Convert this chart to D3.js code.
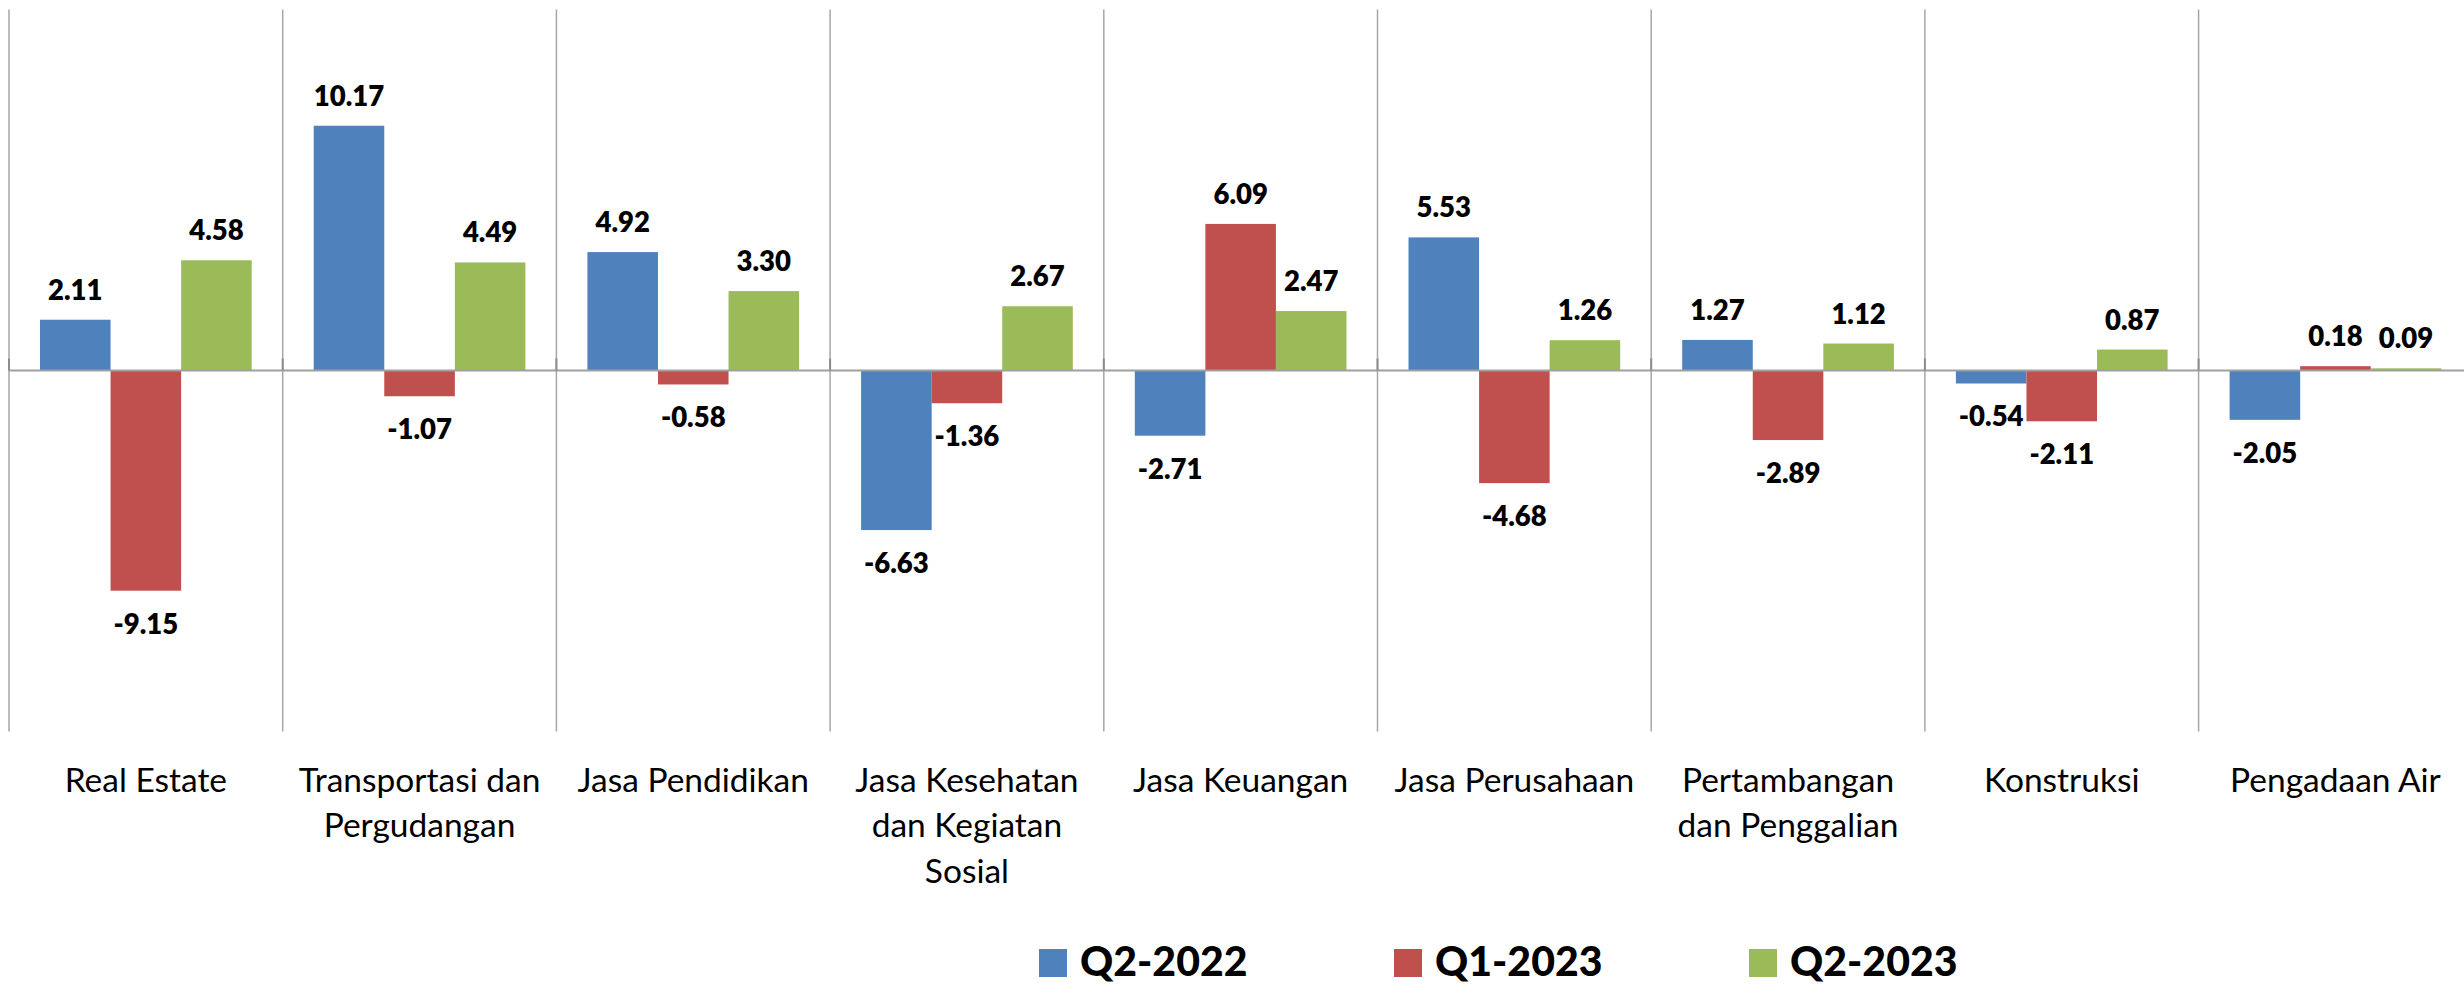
<!DOCTYPE html>
<html>
<head>
<meta charset="utf-8">
<script src="https://cdn.jsdelivr.net/npm/d3@7"></script>
<style>
  body { margin: 0; background: #ffffff; }
  text { font-family: Lato, "Open Sans", sans-serif; fill: #000; }
</style>
</head>
<body>
<script>
// Chart data
var categories = ["Real Estate", "Transportasi dan\nPergudangan", "Jasa Pendidikan",
  "Jasa Kesehatan\ndan Kegiatan\nSosial", "Jasa Keuangan", "Jasa Perusahaan",
  "Pertambangan\ndan Penggalian", "Konstruksi", "Pengadaan Air"];
var seriesNames = ["Q2-2022", "Q1-2023", "Q2-2023"];
var q2_2022 = [2.11, 10.17, 4.92, -6.63, -2.71, 5.53, 1.27, -0.54, -2.05];
var q1_2023 = [-9.15, -1.07, -0.58, -1.36, 6.09, -4.68, -2.89, -2.11, 0.18];
var q2_2023 = [4.58, 4.49, 3.30, 2.67, 2.47, 1.26, 1.12, 0.87, 0.09];
var seriesColors = ["#4F81BD", "#C0504D", "#9BBB59"];
var yDomain = [-15, 15];

function drawChart() {
  var wx = 2464,
      hy = 985;

  var seriesValues = [q2_2022, q1_2023, q2_2023];

  var svg = d3.select("body")
      .append("svg")
      .attr("width", wx)
      .attr("height", hy);

  // plot area (the last category runs a bit past the right edge, as in the source)
  var left = 9,
      band = 273.7,
      top = 9.5,
      bottom = 731.5,
      groupPad = 31;

  var x0 = d3.scaleBand()
      .domain(d3.range(categories.length))
      .range([left, left + band * categories.length])
      .padding(0);

  var x1 = d3.scaleBand()
      .domain(seriesNames)
      .range([groupPad, x0.bandwidth() - groupPad])
      .padding(0);

  var y = d3.scaleLinear()
      .domain(yDomain)
      .range([bottom, top]);

  // vertical gridlines between categories
  var edges = d3.range(categories.length + 1).map(function (i) {
    return left + i * x0.bandwidth();
  });

  svg.append("g").selectAll("line")
      .data(edges)
      .enter().append("line")
      .attr("x1", function (d) { return d; })
      .attr("x2", function (d) { return d; })
      .attr("y1", y(yDomain[1]))
      .attr("y2", y(yDomain[0]))
      .style("stroke", "#a6a6a6")
      .style("stroke-width", 1.5);

  // bars
  var groups = svg.append("g").selectAll("g")
      .data(categories)
      .enter().append("g")
      .attr("transform", function (d, i) { return "translate(" + x0(i) + ",0)"; });

  groups.selectAll("rect")
      .data(function (d, i) {
        return seriesNames.map(function (s, k) {
          return { key: s, k: k, v: seriesValues[k][i] };
        });
      })
      .enter().append("rect")
      .attr("x", function (d) { return x1(d.key); })
      .attr("width", x1.bandwidth())
      .attr("y", function (d) { return y(Math.max(0, d.v)); })
      .attr("height", function (d) { return Math.abs(y(d.v) - y(0)); })
      .attr("fill", function (d) { return seriesColors[d.k]; });

  // zero axis line + small tick stubs
  svg.append("line")
      .attr("x1", left)
      .attr("x2", wx)
      .attr("y1", y(0))
      .attr("y2", y(0))
      .style("stroke", "#a0a0a0")
      .style("stroke-width", 2);

  svg.append("g").selectAll("line")
      .data(edges)
      .enter().append("line")
      .attr("x1", function (d) { return d; })
      .attr("x2", function (d) { return d; })
      .attr("y1", y(0) - 12)
      .attr("y2", y(0))
      .style("stroke", "#8c8c8c")
      .style("stroke-width", 2);

  // data labels
  groups.selectAll("text.val")
      .data(function (d, i) {
        return seriesNames.map(function (s, k) {
          return { key: s, k: k, v: seriesValues[k][i] };
        });
      })
      .enter().append("text")
      .attr("class", "val")
      .attr("x", function (d) { return x1(d.key) + x1.bandwidth() / 2; })
      .attr("y", function (d) {
        return d.v >= 0 ? y(d.v) - 20 : y(d.v) + 43;
      })
      .attr("text-anchor", "middle")
      .style("font-size", "27.5px")
      .style("font-weight", 800)
      .text(function (d) { return d.v.toFixed(2); });

  // category labels
  var catLabels = svg.append("g").selectAll("text")
      .data(categories)
      .enter().append("text")
      .attr("x", function (d, i) { return x0(i) + x0.bandwidth() / 2; })
      .attr("y", 791.5)
      .attr("text-anchor", "middle")
      .style("font-size", "33.5px");

  catLabels.selectAll("tspan")
      .data(function (d) { return d.split("\n"); })
      .enter().append("tspan")
      .attr("x", function () { return d3.select(this.parentNode).attr("x"); })
      .attr("dy", function (d, i) { return i === 0 ? 0 : 45.5; })
      .text(function (d) { return d; });

  // legend
  var legend = svg.append("g").selectAll("g")
      .data(seriesNames)
      .enter().append("g")
      .attr("transform", function (d, i) { return "translate(" + (1039 + i * 355) + ",949)"; });

  legend.append("rect")
      .attr("width", 28)
      .attr("height", 28)
      .attr("fill", function (d, i) { return seriesColors[i]; });

  legend.append("text")
      .attr("x", 41)
      .attr("y", 27)
      .style("font-size", "41px")
      .style("font-weight", 900)
      .text(function (d) { return d; });
}
drawChart();
</script>
</body>
</html>
